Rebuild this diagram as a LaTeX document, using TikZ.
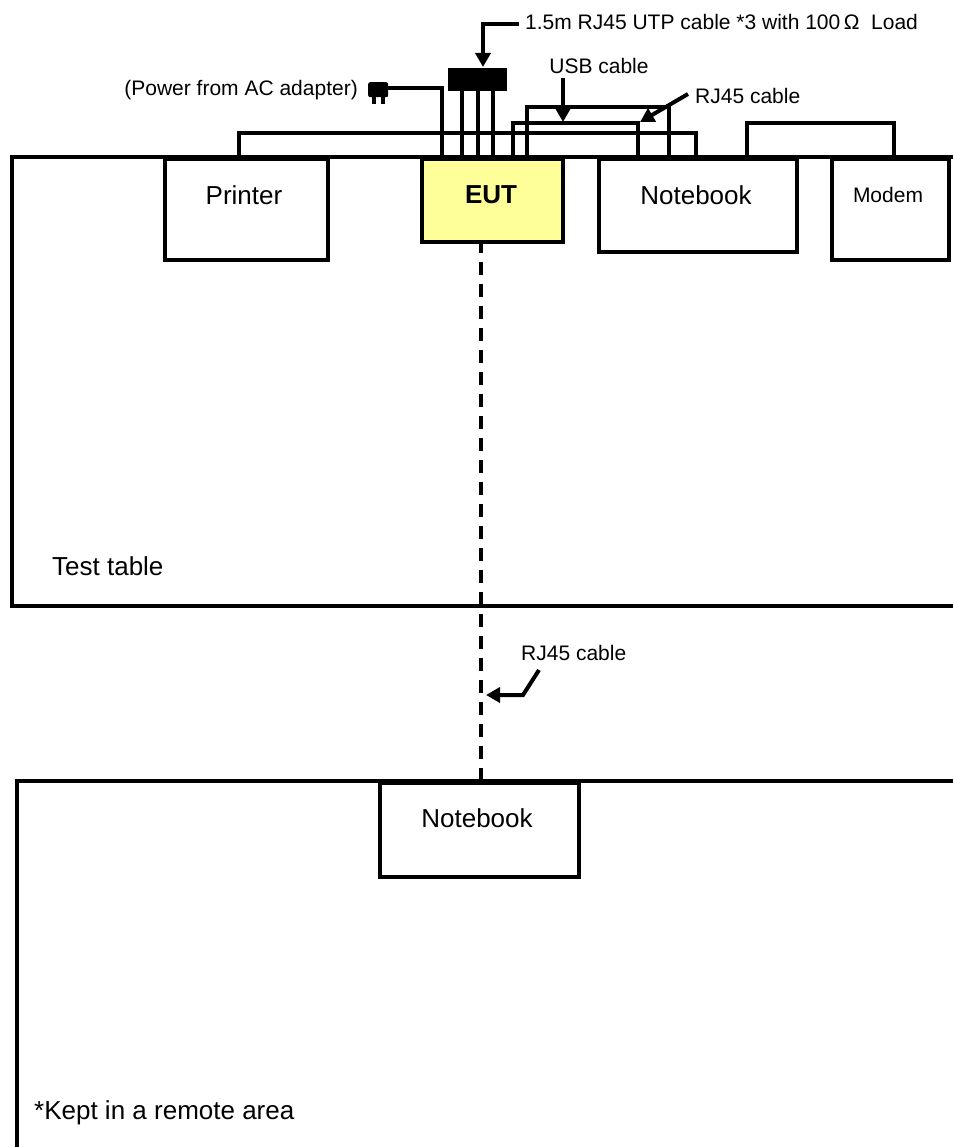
\documentclass[tikz,border=0pt]{standalone}
\usepackage{fontspec}
\setmainfont{Liberation Sans}
\usetikzlibrary{arrows.meta,calc}
\definecolor{eutyellow}{HTML}{FFFF99}
\begin{document}
\begin{tikzpicture}[x=1pt,y=-1pt,
  box/.style={draw, line width=4pt, inner sep=0pt, anchor=north west},
  big/.style={font=\fontsize{26}{30}\selectfont, inner sep=0pt},
  small/.style={font=\fontsize{21}{25}\selectfont, inner sep=0pt},
  cable/.style={line width=4pt},
  arr/.style={line width=4pt,-{Triangle[length=14pt,width=15pt]}},
  dashcable/.style={line width=4pt, dash pattern=on 13pt off 9pt}]
\useasboundingbox (0,0) rectangle (953,1147);
% tables
\draw[line width=4pt] (953,157) -- (12,157) -- (12,606) -- (953,606);
\draw[line width=4pt] (953,781) -- (17,781) -- (17,1149);
% boxes
\node[box, minimum width=163pt, minimum height=101pt] (printer) at (163,157) {};
\node[box, fill=eutyellow, minimum width=141pt, minimum height=83pt] (eut) at (420,157) {};
\node[box, minimum width=198pt, minimum height=93pt] (nb) at (597,157) {};
\node[box, minimum width=117pt, minimum height=101pt] (modem) at (830,157) {};
\node[box, minimum width=199pt, minimum height=94pt] (nb2) at (378,781) {};
% box texts
\node[big] (tprinter) at (244,195) {Printer};
\node[big] (teut) at (491,195) {\bfseries EUT};
\node[big] (tnb) at (696,195) {Notebook};
\node[small] (tmodem) at (888,195) {Modem};
\node[big] (tnb2) at (477,818) {Notebook};
\node[big, anchor=west] (ttable) at (52,566) {Test table};
\node[big, anchor=west] (tremote) at (34,1113) {*Kept in a remote area};
% load block
\node[fill, inner sep=0pt, minimum width=59pt, minimum height=23pt, anchor=north west] (load) at (448,68) {};
\foreach \x in {462,478,493} \draw[cable] (\x,91) -- (\x,157);
% plug
\node[fill, rounded corners=2pt, inner sep=0pt, minimum width=20pt, minimum height=15pt, anchor=north west] (plug) at (368,82) {};
\fill (372,96) rectangle (376,104);
\fill (381,96) rectangle (385,104);
% cables
\coordinate (pw) at (442,157);
\draw[cable] (plug.east |- 0,88) -| (pw);
\draw[cable] (239,157) |- (696,133) -- (696,157);
\draw[cable] (513,157) |- (638,123) -- (638,157);
\draw[cable] (527,157) |- (669,107) -- (669,157);
\draw[cable] (747,157) |- (894,123) -- (894,157);
% labels
\node[small, anchor=east] (lpower) at (358,90) {(Power from AC adapter)};
\node[small, anchor=west] (lutp) at (525,22) {1.5m RJ45 UTP cable *3 with 100\,Ω\ \ Load};
\node[small] (lusb) at (599,66) {USB cable};
\node[small, anchor=west] (lrj) at (695,96) {RJ45 cable};
\node[small, anchor=west] (lrj2) at (521,653) {RJ45 cable};
% arrows
\draw[arr] (519,24) -| (483,67);
\draw[arr] (563,78) -- (563,122);
\draw[arr] (688,94) -- (640,122);
\draw[arr] (539,670) -- (523,695) -- (486,695);
% dashed cable
\coordinate (d1) at (481,240);
\coordinate (d2) at (481,781);
\draw[dashcable] (d1) -- (d2);
\end{tikzpicture}
\end{document}
